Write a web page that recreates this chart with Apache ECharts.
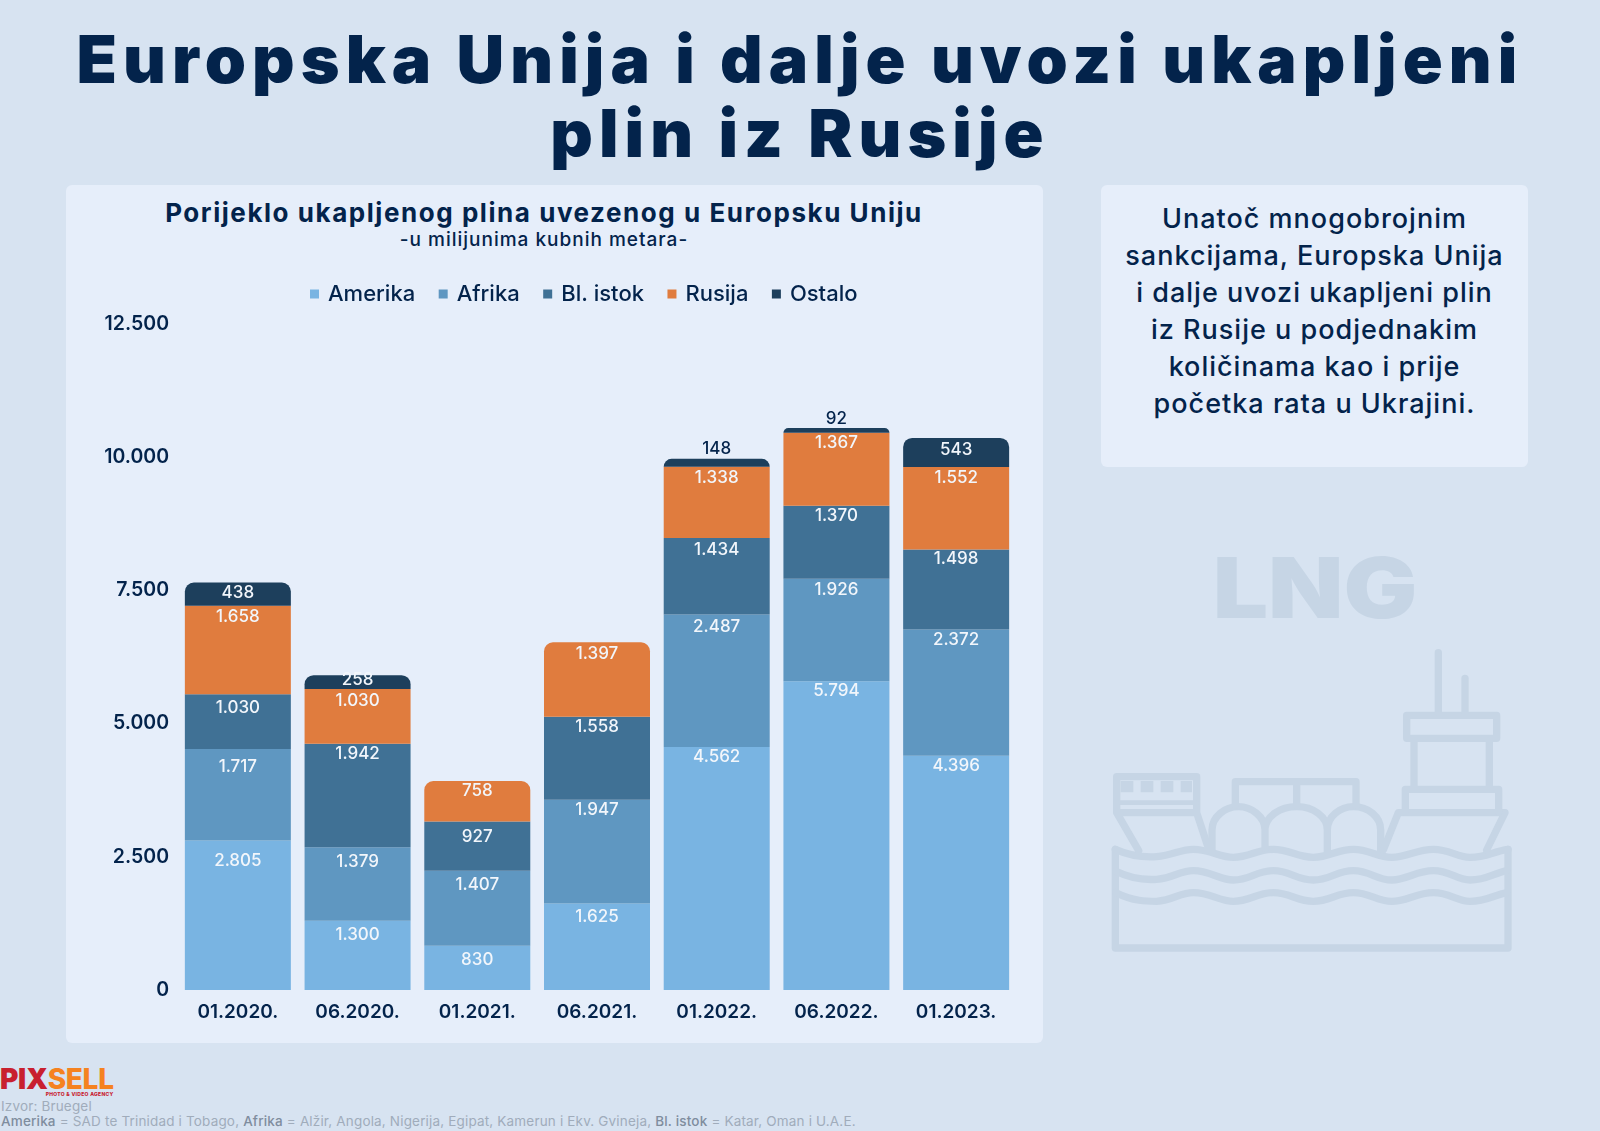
<!DOCTYPE html>
<html>
<head>
<meta charset="utf-8">
<title>Europska Unija i dalje uvozi ukapljeni plin iz Rusije</title>
<script src="https://cdn.jsdelivr.net/npm/echarts@6/dist/echarts.min.js"></script>
<style>
html, body { margin: 0; padding: 0; }
body { width: 1600px; height: 1131px; position: relative; overflow: hidden; background: #d7e3f1; font-family: Inter, "Open Sans", sans-serif; color: #03234b; }
h1 { position: absolute; left: 0; top: 22px; width: 1600px; margin: 0; text-align: center; font-size: 66px; line-height: 74px; font-weight: 900; letter-spacing: 6.1px; }
.card { position: absolute; left: 66px; top: 185px; width: 977px; height: 858px; background: #e6eefa; border-radius: 6px; }
.side { position: absolute; left: 1101px; top: 185px; width: 427px; height: 282px; background: #e6eefa; border-radius: 6px; }
.side p { margin: 15px 0 0; text-align: center; font-size: 27px; line-height: 37px; font-weight: 500; letter-spacing: 1px; }
.chart-title { position: absolute; left: 0; top: 196px; width: 1088px; text-align: center; font-size: 26px; line-height: 34px; font-weight: 700; letter-spacing: 1.55px; white-space: nowrap; }
.chart-sub { position: absolute; left: 0; top: 228px; width: 1088px; text-align: center; font-size: 19px; line-height: 23px; font-weight: 500; letter-spacing: 1px; white-space: nowrap; }
#chart { position: absolute; left: 0; top: 0; width: 1600px; height: 1131px; }
.ship { position: absolute; left: 1090px; top: 530px; width: 450px; height: 440px; }
.logo { position: absolute; left: 0; top: 1064px; font-size: 28px; line-height: 30px; font-weight: 800; letter-spacing: -0.3px; }
.logo b { color: #c8202f; } .logo i { color: #f58220; font-style: normal; }
.logo small { display: block; margin-top: -3px; font-size: 5px; line-height: 6px; color: #c8202f; text-align: right; letter-spacing: 0.3px; }
.src { position: absolute; left: 1px; top: 1099px; font-size: 13.5px; line-height: 15px; letter-spacing: 0.17px; color: #a0acbb; white-space: nowrap; }
.src b { font-weight: 500; color: #7f8d9e; }
</style>
</head>
<body>
<h1>Europska Unija i dalje uvozi ukapljeni<br>plin iz Rusije</h1>
<div class="card"></div>
<div class="chart-title">Porijeklo ukapljenog plina uvezenog u Europsku Uniju</div>
<div class="chart-sub">-u milijunima kubnih metara-</div>
<div class="side"><p>Unatoč mnogobrojnim<br>sankcijama, Europska Unija<br>i dalje uvozi ukapljeni plin<br>iz Rusije u podjednakim<br>količinama kao i prije<br>početka rata u Ukrajini.</p></div>

<svg class="ship" viewBox="0 0 1350 1320" fill="none" stroke="#c6d5e5" stroke-width="22" stroke-linejoin="round" stroke-linecap="round">
  <text x="368" y="263" textLength="614" lengthAdjust="spacingAndGlyphs" font-family="Inter, sans-serif" font-weight="900" font-size="250" fill="#c6d5e5" stroke="none">LNG</text>
  <path d="M76 958V1254H1254V958"/>
  <path d="M78 1024C130 1050 170 1050 200 1048C250 1044 270 1022 310 1022C360 1022 390 1050 430 1050C480 1050 500 1022 550 1022C600 1022 620 1050 670 1050C720 1050 740 1022 790 1022C840 1022 860 1050 905 1050C950 1050 980 1022 1030 1022C1080 1022 1100 1050 1140 1050C1190 1050 1210 1030 1250 1022"/>
  <path d="M78 1088C130 1114 170 1114 200 1114C250 1110 270 1088 310 1088C360 1088 390 1114 430 1114C480 1114 500 1088 550 1088C600 1088 620 1114 670 1114C720 1114 740 1088 790 1088C840 1088 860 1114 905 1114C950 1114 980 1088 1030 1088C1080 1088 1100 1114 1140 1114C1190 1114 1210 1096 1250 1088"/>
  <path d="M76 958C130 982 170 982 200 980C250 976 270 958 310 958C360 958 390 982 430 982C480 982 500 958 550 958C600 958 620 982 670 982C720 982 740 958 790 958C840 958 860 982 905 982C950 982 980 958 1030 958C1080 958 1100 982 1140 982C1190 982 1210 964 1254 958"/>
  <path d="M146 962L80 848V740H320V848H90M320 848L352 945"/>
  <path d="M90 818H320" stroke-width="14"/>
  <path d="M92 770h38M152 770h38M212 770h38M272 770h34" stroke-width="34" stroke-linecap="butt"/>
  <path d="M366 965V900C366 860 405 830 445 830C485 830 525 860 525 900V955M525 900C525 860 570 830 620 830C670 830 712 860 712 900V965M712 900C712 860 750 830 790 830C835 830 872 860 872 900V975"/>
  <path d="M436 826V755H798V826M620 755V826"/>
  <path d="M880 960L925 848H1245L1190 960"/>
  <path d="M946 845V778H1226V845M972 778V625M1198 778V625M950 625V556H1220V625H950"/>
  <path d="M1045 545V368M1125 545V445"/>
</svg>

<div class="logo"><b>PIX</b><i>SELL</i><small>PHOTO &amp; VIDEO AGENCY</small></div>
<div class="src">Izvor: Bruegel<br><b>Amerika</b> = SAD te Trinidad i Tobago, <b>Afrika</b> = Alžir, Angola, Nigerija, Egipat, Kamerun i Ekv. Gvineja, <b>Bl. istok</b> = Katar, Oman i U.A.E.</div>

<div id="chart"></div>

<script>
// Kategorije
const categories = ['01.2020.', '06.2020.', '01.2021.', '06.2021.', '01.2022.', '06.2022.', '01.2023.'];

// Vrijednosti po regijama
const amerika = [2805, 1300, 830, 1625, 4562, 5794, 4396];
const afrika = [1717, 1379, 1407, 1947, 2487, 1926, 2372];
const blIstok = [1030, 1942, 927, 1558, 1434, 1370, 1498];
const rusija = [1658, 1030, 758, 1397, 1338, 1367, 1552];
const ostalo = [438, 258, null, null, 148, 92, 543];

// Nazivi i boje serija
const seriesNames = ['Amerika', 'Afrika', 'Bl. istok', 'Rusija', 'Ostalo'];
const seriesColors = ['#79b4e2', '#5f97c1', '#407195', '#e07c3e', '#1d3f5c'];
const seriesValues = [amerika, afrika, blIstok, rusija, ostalo];

// Oznake u originalu nisu jednako udaljene od vrha segmenta
const labelNudge = [
    [9, 3, 3, 2, -2, -2, -1],
    [6, 3, 3, -1, 1, 0, -1],
    [2, -1, 4, -1, 0, -1, -2],
    [0, 0, -2, 0, 0, -1, -1],
    [-1, -7, 0, 0, 0, 0, 0]
];

const darkText = '#03234b';
const fontName = 'Inter';

// 1.234 format
function formatNum(v) {
    return String(v).replace(/\B(?=(\d{3})+$)/g, '.');
}

const chart = echarts.init(document.getElementById('chart'), null, { renderer: 'canvas' });

const series = seriesNames.map(function (name, s) {
    return {
        name: name,
        type: 'bar',
        stack: 'total',
        barWidth: 106,
        itemStyle: { color: seriesColors[s] },
        label: {
            show: true,
            position: 'insideTop',
            distance: 3,
            color: '#f2f6fb',
            fontFamily: fontName,
            fontWeight: 500,
            fontSize: 17,
            formatter: function (p) { return formatNum(p.value); }
        },
        data: seriesValues[s].map(function (v, i) {
            const item = { value: v, label: { offset: [0, labelNudge[s][i]] } };
            // zaobljen vrh samo na najvisem segmentu
            const isTop = seriesValues.slice(s + 1).every(function (arr) { return arr[i] == null; });
            if (isTop) {
                item.itemStyle = { borderRadius: [9, 9, 0, 0] };
            }
            // tanki segmenti imaju oznaku iznad stupca
            if (name === 'Ostalo' && v < 200) {
                item.label = { position: 'top', distance: 1, color: darkText };
            }
            return item;
        })
    };
});

const option = {
    animation: false,
    backgroundColor: 'transparent',
    textStyle: { fontFamily: fontName },
    legend: {
        data: seriesNames,
        top: 283,
        left: 310,
        padding: 0,
        icon: 'rect',
        itemWidth: 9,
        itemHeight: 9,
        itemGap: 23.5,
        selectedMode: false,
        textStyle: { color: darkText, fontSize: 22, fontWeight: 500, fontFamily: fontName, padding: [0, 0, 0, 4] }
    },
    grid: { left: 178, right: 584, top: 324, bottom: 141 },
    xAxis: {
        type: 'category',
        data: categories,
        axisLine: { show: false },
        axisTick: { show: false },
        axisLabel: { color: darkText, fontSize: 19, fontWeight: 600, fontFamily: fontName, margin: 13 }
    },
    yAxis: {
        type: 'value',
        min: 0,
        max: 12500,
        interval: 2500,
        axisLine: { show: false },
        axisTick: { show: false },
        splitLine: { show: false },
        axisLabel: {
            color: darkText, fontSize: 19.5, fontWeight: 600, fontFamily: fontName, margin: 9,
            padding: [2, 0, 0, 0],
            formatter: formatNum
        }
    },
    series: series
};

chart.setOption(option);
</script>
</body>
</html>
